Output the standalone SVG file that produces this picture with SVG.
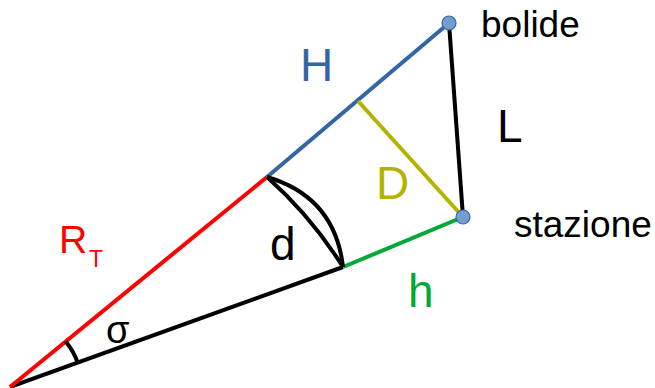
<svg xmlns="http://www.w3.org/2000/svg" width="655" height="388" viewBox="0 0 655 388">
<style>
text{font-family:"Liberation Sans",Arial,sans-serif;}
.ln{stroke-width:4;fill:none;stroke-linecap:butt;}
.big{font-size:46px;}
.lbl{font-size:37px;fill:#000;}
.pt{fill:#729fcf;stroke:#3465a4;stroke-width:1.2;}
</style>
<rect width="655" height="388" fill="#fff"/>
<g id="connectors">
<line class="ln" x1="10" y1="387" x2="343" y2="267" stroke="#000"/>
<line class="ln" x1="10" y1="387" x2="267" y2="177" stroke="#ff0000"/>
<line class="ln" x1="267" y1="177" x2="449" y2="23" stroke="#3465a4"/>
<line class="ln" x1="343" y1="267" x2="463" y2="217" stroke="#00a933"/>
<line class="ln" x1="449" y1="23" x2="463" y2="217" stroke="#000"/>
<line class="ln" x1="358" y1="101" x2="463" y2="217" stroke="#b4b400"/>
<path class="ln" d="M267,177 Q335,197 343,267" stroke="#000" stroke-width="3.5"/>
<path class="ln" d="M267,177 Q311,216 343,267" stroke="#000" stroke-width="3.5"/>
<path class="ln" d="M65.7,341.4 A72,72 0 0 1 77.7,362.5" stroke="#000" stroke-width="3"/>
</g>
<g id="bolide">
<circle class="pt" cx="449" cy="23" r="7"/>
<text class="lbl" x="481" y="37">bolide</text>
</g>
<g id="stazione">
<circle class="pt" cx="463" cy="217" r="7"/>
<text class="lbl" x="514" y="237">stazione</text>
</g>
<g id="labels">
<text class="big" x="300" y="81" fill="#3465a4">H</text>
<text class="big" x="497" y="142" fill="#000">L</text>
<text class="big" x="376" y="199" fill="#b4b400">D</text>
<text class="big" x="270" y="260" fill="#000">d</text>
<text class="big" x="408" y="307" fill="#00a933">h</text>
<text x="59" y="253" font-size="39" fill="#ff0000">R</text>
<text x="89" y="267" font-size="23" fill="#ff0000">T</text>
<text x="106" y="343" font-size="38" fill="#000">σ</text>
</g>
</svg>
